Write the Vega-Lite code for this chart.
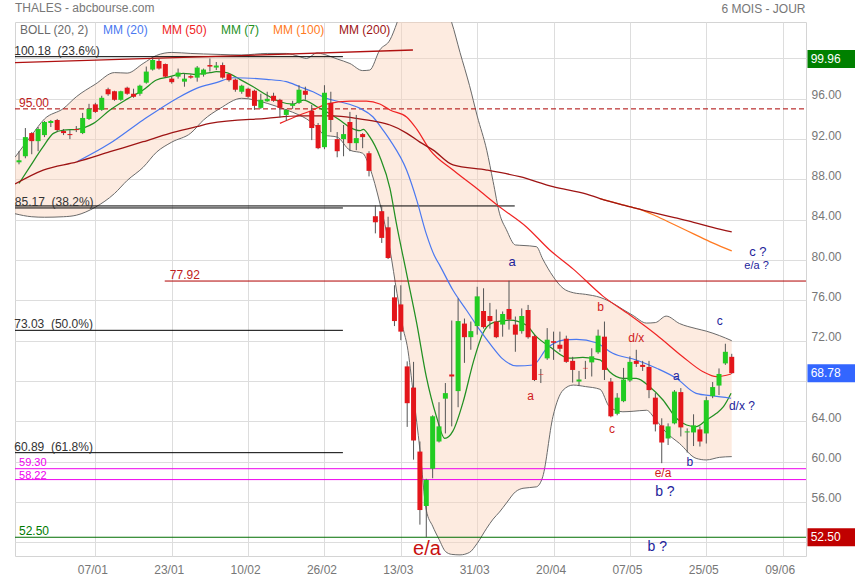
{
  "$schema": "https://vega.github.io/schema/vega-lite/v6.json",
  "width": 791,
  "height": 534,
  "autosize": {"type": "none"},
  "padding": {"left": 15, "top": 22, "right": 49, "bottom": 24},
  "background": "white",
  "title": {"text": "THALES - abcbourse.com", "anchor": "start", "frame": "group", "fontSize": 12, "fontWeight": "normal", "color": "#777777", "offset": -21, "baseline": "alphabetic"},
  "config": {"font": "Liberation Sans", "view": {"stroke": "#d4d4d4"}},
  "datasets": {
    "candles": [
      {"i":0,"o":89.7,"h":90.8,"l":89.5,"c":89.9},{"i":1,"o":90.3,"h":93.1,"l":90.1,"c":92.2},{"i":2,"o":92.6,"h":92.7,"l":90.5,"c":91.8},{"i":3,"o":91.8,"h":93.2,"l":90.8,"c":93.0},{"i":4,"o":92.4,"h":93.8,"l":92.2,"c":93.7},
      {"i":5,"o":93.6,"h":93.9,"l":93.2,"c":93.8},{"i":6,"o":93.9,"h":94.0,"l":92.7,"c":92.9},{"i":7,"o":92.8,"h":93.0,"l":92.4,"c":92.6},{"i":8,"o":92.5,"h":92.9,"l":92.0,"c":92.4},{"i":9,"o":93.0,"h":93.3,"l":92.7,"c":92.9},
      {"i":10,"o":92.6,"h":94.6,"l":92.5,"c":94.1},{"i":11,"o":94.0,"h":95.5,"l":93.9,"c":95.0},{"i":12,"o":95.45,"h":95.6,"l":94.6,"c":94.7},{"i":13,"o":94.9,"h":96.3,"l":94.8,"c":96.1},{"i":14,"o":96.95,"h":97.1,"l":96.3,"c":96.45},
      {"i":15,"o":96.75,"h":96.8,"l":95.8,"c":95.9},{"i":16,"o":95.9,"h":96.8,"l":95.8,"c":96.75},{"i":17,"o":97.1,"h":97.2,"l":96.4,"c":96.5},{"i":18,"o":96.5,"h":97.0,"l":96.1,"c":96.2},{"i":19,"o":96.5,"h":97.4,"l":96.3,"c":97.3},
      {"i":20,"o":97.6,"h":99.2,"l":97.5,"c":98.7},{"i":21,"o":98.9,"h":100.0,"l":98.8,"c":99.85},{"i":22,"o":99.75,"h":99.95,"l":98.9,"c":99.0},{"i":23,"o":99.45,"h":99.5,"l":98.1,"c":98.2},{"i":24,"o":98.0,"h":98.2,"l":97.5,"c":97.65},
      {"i":25,"o":98.2,"h":99.0,"l":98.0,"c":98.6},{"i":26,"o":97.7,"h":98.5,"l":97.2,"c":98.0},{"i":27,"o":98.25,"h":98.4,"l":98.0,"c":98.1},{"i":28,"o":98.1,"h":99.25,"l":97.7,"c":99.1},{"i":29,"o":98.4,"h":99.0,"l":98.2,"c":98.9},
      {"i":30,"o":99.35,"h":100.0,"l":98.7,"c":99.2},{"i":31,"o":99.1,"h":99.65,"l":98.85,"c":99.3},{"i":32,"o":99.35,"h":99.6,"l":98.0,"c":98.1},{"i":33,"o":98.45,"h":98.5,"l":97.7,"c":97.85},{"i":34,"o":97.9,"h":98.0,"l":96.7,"c":96.9},
      {"i":35,"o":96.7,"h":97.4,"l":96.5,"c":97.3},{"i":36,"o":97.0,"h":97.1,"l":96.1,"c":96.2},{"i":37,"o":96.8,"h":96.9,"l":94.9,"c":95.3},{"i":38,"o":95.1,"h":96.5,"l":95.0,"c":95.9},{"i":39,"o":95.75,"h":96.7,"l":95.7,"c":96.0},
      {"i":40,"o":96.3,"h":96.6,"l":95.7,"c":95.8},{"i":41,"o":95.9,"h":96.0,"l":94.15,"c":95.1},{"i":42,"o":94.4,"h":95.0,"l":93.8,"c":94.9},{"i":43,"o":95.3,"h":95.8,"l":95.0,"c":95.5},{"i":44,"o":95.6,"h":97.35,"l":95.5,"c":96.9},
      {"i":45,"o":96.8,"h":97.2,"l":95.9,"c":96.4},{"i":46,"o":94.8,"h":95.4,"l":91.9,"c":93.1},{"i":47,"o":93.4,"h":93.6,"l":91.0,"c":91.1},{"i":48,"o":91.2,"h":97.35,"l":91.0,"c":96.6},{"i":49,"o":95.6,"h":96.7,"l":92.7,"c":93.9},
      {"i":50,"o":92.0,"h":92.7,"l":90.2,"c":90.8},{"i":51,"o":92.0,"h":93.4,"l":90.3,"c":92.5},{"i":52,"o":93.7,"h":94.7,"l":90.8,"c":91.6},{"i":53,"o":91.6,"h":94.4,"l":90.9,"c":92.1},{"i":54,"o":92.5,"h":92.6,"l":91.1,"c":92.2},
      {"i":55,"o":90.6,"h":90.8,"l":88.3,"c":88.85},{"i":56,"o":84.35,"h":85.45,"l":82.65,"c":83.75},{"i":57,"o":84.85,"h":85.45,"l":81.7,"c":82.2},{"i":58,"o":83.25,"h":84.3,"l":80.1,"c":80.2},{"i":59,"o":76.3,"h":77.5,"l":73.45,"c":73.95},
      {"i":60,"o":75.6,"h":77.5,"l":72.05,"c":72.9},{"i":61,"o":69.45,"h":69.95,"l":63.45,"c":65.8},{"i":62,"o":67.35,"h":69.9,"l":60.2,"c":62.1},{"i":63,"o":61.0,"h":62.0,"l":53.75,"c":55.2},{"i":64,"o":55.6,"h":58.3,"l":52.5,"c":58.2},
      {"i":65,"o":59.3,"h":64.6,"l":58.35,"c":64.5},{"i":66,"o":62.0,"h":65.9,"l":61.9,"c":63.5},{"i":67,"o":66.25,"h":67.8,"l":62.8,"c":66.8},{"i":68,"o":68.65,"h":74.0,"l":63.5,"c":68.45},{"i":69,"o":67.0,"h":76.2,"l":65.4,"c":73.95},
      {"i":70,"o":73.7,"h":74.2,"l":69.8,"c":72.35},{"i":71,"o":72.35,"h":73.9,"l":71.1,"c":72.95},{"i":72,"o":73.45,"h":77.35,"l":72.6,"c":76.4},{"i":73,"o":74.95,"h":77.2,"l":73.2,"c":73.35},{"i":74,"o":74.45,"h":75.75,"l":73.2,"c":73.95},
      {"i":75,"o":73.9,"h":75.1,"l":72.25,"c":72.35},{"i":76,"o":73.6,"h":74.9,"l":72.4,"c":74.65},{"i":77,"o":75.15,"h":77.95,"l":73.1,"c":74.1},{"i":78,"o":73.6,"h":74.4,"l":70.9,"c":72.6},{"i":79,"o":72.95,"h":75.2,"l":72.7,"c":74.45},
      {"i":80,"o":75.05,"h":75.55,"l":72.2,"c":72.35},{"i":81,"o":72.45,"h":72.6,"l":68.0,"c":68.1},{"i":82,"o":68.65,"h":69.2,"l":67.8,"c":68.6},{"i":83,"o":70.25,"h":73.25,"l":70.1,"c":72.1},{"i":84,"o":71.95,"h":72.9,"l":70.1,"c":71.8},
      {"i":85,"o":71.6,"h":72.9,"l":70.9,"c":71.2},{"i":86,"o":72.2,"h":72.5,"l":69.8,"c":69.9},{"i":87,"o":70.0,"h":70.4,"l":67.85,"c":69.1},{"i":88,"o":67.95,"h":69.0,"l":67.5,"c":68.15},{"i":89,"o":69.3,"h":70.0,"l":68.2,"c":69.25},
      {"i":90,"o":69.85,"h":71.25,"l":68.45,"c":70.45},{"i":91,"o":70.85,"h":73.1,"l":70.7,"c":72.5},{"i":92,"o":72.4,"h":73.9,"l":68.1,"c":69.1},{"i":93,"o":67.95,"h":68.3,"l":64.4,"c":64.5},{"i":94,"o":64.75,"h":66.8,"l":64.6,"c":66.35},
      {"i":95,"o":66.0,"h":69.3,"l":65.9,"c":68.15},{"i":96,"o":68.05,"h":70.45,"l":67.9,"c":69.9},{"i":97,"o":70.0,"h":71.1,"l":69.4,"c":69.7},{"i":98,"o":69.6,"h":70.0,"l":69.0,"c":69.4},{"i":99,"o":69.4,"h":70.0,"l":66.3,"c":67.1},
      {"i":100,"o":66.35,"h":66.8,"l":63.0,"c":63.7},{"i":101,"o":63.6,"h":64.3,"l":59.85,"c":61.9},{"i":102,"o":62.3,"h":63.8,"l":61.65,"c":63.5},{"i":103,"o":63.8,"h":67.1,"l":63.7,"c":66.95},{"i":104,"o":66.9,"h":67.3,"l":62.5,"c":63.4},
      {"i":105,"o":62.9,"h":63.3,"l":60.9,"c":63.0},{"i":106,"o":62.9,"h":64.7,"l":61.55,"c":63.6},{"i":107,"o":63.2,"h":63.5,"l":61.5,"c":62.0},{"i":108,"o":62.8,"h":66.45,"l":61.8,"c":66.1},{"i":109,"o":66.5,"h":67.9,"l":66.3,"c":67.4},
      {"i":110,"o":67.55,"h":69.25,"l":66.6,"c":68.7},{"i":111,"o":69.75,"h":71.7,"l":69.6,"c":70.9},{"i":112,"o":70.4,"h":70.7,"l":68.7,"c":68.78}
    ],
    "band": [
      {"i":-0.63,"up":90.2,"lo":84.6},{"i":2,"up":92.4,"lo":84.3},{"i":4,"up":94.0,"lo":84.25},{"i":7,"up":95.05,"lo":84.3},{"i":9,"up":96.2,"lo":84.45},
      {"i":12,"up":97.45,"lo":85.25},{"i":15,"up":98.6,"lo":86.6},{"i":17,"up":98.55,"lo":87.9},{"i":19.5,"up":99.5,"lo":89.2},{"i":21.6,"up":100.3,"lo":90.7},
      {"i":24,"up":100.6,"lo":91.7},{"i":27,"up":100.5,"lo":92.6},{"i":29,"up":100.45,"lo":93.9},{"i":31.6,"up":100.4,"lo":95.05},{"i":35,"up":100.35,"lo":96.05},
      {"i":39,"up":100.5,"lo":95.55},{"i":42,"up":100.5,"lo":94.9},{"i":44,"up":100.2,"lo":94.4},{"i":45.2,"up":100.0,"lo":94.0},{"i":46.8,"up":100.55,"lo":93.2},
      {"i":48,"up":100.4,"lo":92.4},{"i":50,"up":99.95,"lo":92.2},{"i":52,"up":99.5,"lo":90.9},{"i":54,"up":98.8,"lo":90.6},{"i":55.1,"up":98.85,"lo":89.2},
      {"i":56.7,"up":100.85,"lo":85.65},{"i":58.3,"up":101.85,"lo":81.0},{"i":59.4,"up":103.55,"lo":76.7},{"i":60.4,"up":105.5,"lo":73.1},{"i":61,"up":106.2,"lo":71.5},
      {"i":62,"up":107.5,"lo":66.5},{"i":63,"up":108.8,"lo":61.2},{"i":64,"up":110.0,"lo":55.2},{"i":65,"up":108.2,"lo":53.6},{"i":66,"up":106.9,"lo":52.3},
      {"i":67,"up":105.2,"lo":51.1},{"i":68,"up":103.55,"lo":50.8},{"i":69.3,"up":100.6,"lo":50.75},{"i":70.8,"up":97.3,"lo":51.0},{"i":72,"up":94.3,"lo":51.9},
      {"i":73.5,"up":90.9,"lo":53.4},{"i":74.5,"up":87.8,"lo":54.3},{"i":75.5,"up":84.65,"lo":55.0},{"i":76.6,"up":83.0,"lo":55.9},{"i":78,"up":81.5,"lo":57.0},
      {"i":79.2,"up":81.45,"lo":57.36},{"i":81.3,"up":81.33,"lo":57.5},{"i":82.3,"up":80.1,"lo":58.5},{"i":83.9,"up":78.4,"lo":64.46},{"i":85.5,"up":77.2,"lo":67.1},
      {"i":87.1,"up":76.76,"lo":67.6},{"i":89,"up":76.6,"lo":67.45},{"i":91.3,"up":76.3,"lo":67.18},{"i":92.8,"up":75.9,"lo":65.44},{"i":94.9,"up":75.1,"lo":64.95},
      {"i":96.5,"up":74.5,"lo":65.0},{"i":98.6,"up":73.75,"lo":65.1},{"i":100,"up":73.8,"lo":64.2},{"i":101.7,"up":74.44,"lo":62.9},{"i":103.8,"up":73.7,"lo":61.8},
      {"i":106.4,"up":73.2,"lo":60.33},{"i":108,"up":72.95,"lo":60.17},{"i":110.1,"up":72.5,"lo":60.43},{"i":112,"up":72.0,"lo":60.5}
    ],
    "ma": [
      {"s":"MM (7)","i":0,"v":87.6},{"s":"MM (7)","i":1.7,"v":89.25},{"s":"MM (7)","i":3.8,"v":91.25},{"s":"MM (7)","i":5.4,"v":92.57},{"s":"MM (7)","i":7,"v":92.9},
      {"s":"MM (7)","i":9.1,"v":92.97},{"s":"MM (7)","i":11.7,"v":93.56},{"s":"MM (7)","i":14.3,"v":94.89},{"s":"MM (7)","i":16.9,"v":95.94},{"s":"MM (7)","i":19.5,"v":96.87},
      {"s":"MM (7)","i":21.6,"v":97.86},{"s":"MM (7)","i":23.7,"v":98.19},{"s":"MM (7)","i":25.8,"v":98.53},{"s":"MM (7)","i":27.9,"v":98.43},{"s":"MM (7)","i":30,"v":98.59},
      {"s":"MM (7)","i":31,"v":98.69},{"s":"MM (7)","i":32.6,"v":98.59},{"s":"MM (7)","i":34.7,"v":97.93},{"s":"MM (7)","i":36.8,"v":97.19},{"s":"MM (7)","i":38.9,"v":96.38},
      {"s":"MM (7)","i":41,"v":95.71},{"s":"MM (7)","i":43.1,"v":95.48},{"s":"MM (7)","i":44.7,"v":95.87},{"s":"MM (7)","i":46.8,"v":95.21},{"s":"MM (7)","i":48.3,"v":94.72},
      {"s":"MM (7)","i":50.4,"v":93.89},{"s":"MM (7)","i":52,"v":93.17},{"s":"MM (7)","i":53.6,"v":92.84},{"s":"MM (7)","i":54.1,"v":92.97},{"s":"MM (7)","i":55.1,"v":92.24},
      {"s":"MM (7)","i":56.7,"v":90.26},{"s":"MM (7)","i":58.3,"v":87.1},{"s":"MM (7)","i":59.3,"v":83.64},{"s":"MM (7)","i":60.9,"v":78.68},{"s":"MM (7)","i":62.5,"v":73.72},
      {"s":"MM (7)","i":64,"v":68.43},{"s":"MM (7)","i":65.6,"v":64.47},{"s":"MM (7)","i":66.9,"v":62.31},{"s":"MM (7)","i":68.2,"v":63.05},{"s":"MM (7)","i":69.8,"v":65.95},
      {"s":"MM (7)","i":71.4,"v":69.9},{"s":"MM (7)","i":72.9,"v":72.74},{"s":"MM (7)","i":74.5,"v":73.79},{"s":"MM (7)","i":77.1,"v":74.05},{"s":"MM (7)","i":79.7,"v":73.56},
      {"s":"MM (7)","i":81.3,"v":72.4},{"s":"MM (7)","i":83.4,"v":71.41},{"s":"MM (7)","i":86.5,"v":70.26},{"s":"MM (7)","i":88.6,"v":70.35},{"s":"MM (7)","i":91.3,"v":70.09},
      {"s":"MM (7)","i":92.8,"v":68.92},{"s":"MM (7)","i":94.9,"v":68.27},{"s":"MM (7)","i":97,"v":68.27},{"s":"MM (7)","i":99.1,"v":67.44},{"s":"MM (7)","i":101.2,"v":66.12},
      {"s":"MM (7)","i":103.3,"v":64.31},{"s":"MM (7)","i":104.9,"v":63.64},{"s":"MM (7)","i":106.4,"v":63.47},{"s":"MM (7)","i":108,"v":64.13},{"s":"MM (7)","i":109.6,"v":64.8},
      {"s":"MM (7)","i":110.7,"v":65.45},{"s":"MM (7)","i":111.9,"v":66.78},
      {"s":"MM (20)","i":9.1,"v":89.75},{"s":"MM (20)","i":14.3,"v":91.58},{"s":"MM (20)","i":19.5,"v":93.9},{"s":"MM (20)","i":24.8,"v":96.04},{"s":"MM (20)","i":27.9,"v":97.04},
      {"s":"MM (20)","i":31,"v":97.6},{"s":"MM (20)","i":33.7,"v":98.09},{"s":"MM (20)","i":38.9,"v":97.93},{"s":"MM (20)","i":42,"v":97.7},{"s":"MM (20)","i":44.1,"v":97.2},
      {"s":"MM (20)","i":46.2,"v":96.7},{"s":"MM (20)","i":48.3,"v":96.04},{"s":"MM (20)","i":50.4,"v":95.71},{"s":"MM (20)","i":53.6,"v":95.05},{"s":"MM (20)","i":55.6,"v":94.22},
      {"s":"MM (20)","i":57.2,"v":92.9},{"s":"MM (20)","i":58.3,"v":91.9},{"s":"MM (20)","i":60.9,"v":88.93},{"s":"MM (20)","i":62.5,"v":85.95},{"s":"MM (20)","i":64,"v":82.6},
      {"s":"MM (20)","i":65.3,"v":80.4},{"s":"MM (20)","i":66.1,"v":79.5},{"s":"MM (20)","i":68.2,"v":77.0},{"s":"MM (20)","i":70.3,"v":75.05},{"s":"MM (20)","i":72.4,"v":73.07},
      {"s":"MM (20)","i":74.5,"v":71.3},{"s":"MM (20)","i":76,"v":70.2},{"s":"MM (20)","i":78.2,"v":69.5},{"s":"MM (20)","i":80.8,"v":69.59},{"s":"MM (20)","i":82.9,"v":71.2},
      {"s":"MM (20)","i":85.5,"v":72.05},{"s":"MM (20)","i":87.6,"v":72.14},{"s":"MM (20)","i":90.7,"v":71.8},{"s":"MM (20)","i":93.3,"v":70.75},{"s":"MM (20)","i":97,"v":70.09},
      {"s":"MM (20)","i":100.2,"v":69.27},{"s":"MM (20)","i":103.3,"v":68.27},{"s":"MM (20)","i":106.4,"v":66.78},{"s":"MM (20)","i":109.1,"v":66.52},{"s":"MM (20)","i":111.9,"v":66.29},
      {"s":"MM (50)","i":41,"v":93.56},{"s":"MM (50)","i":44.1,"v":94.39},{"s":"MM (50)","i":46.2,"v":94.89},{"s":"MM (50)","i":48.3,"v":95.48},{"s":"MM (50)","i":52,"v":95.77},
      {"s":"MM (50)","i":54.6,"v":95.77},{"s":"MM (50)","i":56.7,"v":95.48},{"s":"MM (50)","i":58.3,"v":94.89},{"s":"MM (50)","i":60.9,"v":94.2},{"s":"MM (50)","i":62.5,"v":93.0},
      {"s":"MM (50)","i":64.6,"v":90.91},{"s":"MM (50)","i":68.2,"v":88.93},{"s":"MM (50)","i":71.9,"v":87.12},{"s":"MM (50)","i":75.5,"v":85.29},{"s":"MM (50)","i":79.7,"v":83.31},
      {"s":"MM (50)","i":83.4,"v":81.0},{"s":"MM (50)","i":87.1,"v":79.1},{"s":"MM (50)","i":91.8,"v":76.4},{"s":"MM (50)","i":96,"v":74.55},{"s":"MM (50)","i":100.2,"v":72.57},
      {"s":"MM (50)","i":104.3,"v":70.41},{"s":"MM (50)","i":107.5,"v":68.92},{"s":"MM (50)","i":109.6,"v":68.43},{"s":"MM (50)","i":111.9,"v":68.7},
      {"s":"MM (100)","i":91.3,"v":86.1},{"s":"MM (100)","i":95,"v":85.45},{"s":"MM (100)","i":97.5,"v":85.05},{"s":"MM (100)","i":100,"v":84.4},{"s":"MM (100)","i":103,"v":83.5},
      {"s":"MM (100)","i":106,"v":82.6},{"s":"MM (100)","i":109,"v":81.7},{"s":"MM (100)","i":112,"v":80.9},
      {"s":"MM (200)","i":-0.63,"v":87.55},{"s":"MM (200)","i":3.8,"v":88.93},{"s":"MM (200)","i":9.1,"v":89.75},{"s":"MM (200)","i":14.3,"v":90.75},{"s":"MM (200)","i":19.5,"v":91.74},
      {"s":"MM (200)","i":23.7,"v":92.57},{"s":"MM (200)","i":27.9,"v":93.23},{"s":"MM (200)","i":30,"v":93.56},{"s":"MM (200)","i":38.9,"v":94.06},{"s":"MM (200)","i":44.1,"v":94.3},
      {"s":"MM (200)","i":49.4,"v":94.3},{"s":"MM (200)","i":53,"v":94.06},{"s":"MM (200)","i":56.2,"v":93.73},{"s":"MM (200)","i":58.3,"v":93.4},{"s":"MM (200)","i":60.9,"v":92.6},
      {"s":"MM (200)","i":63,"v":91.7},{"s":"MM (200)","i":65.1,"v":90.91},{"s":"MM (200)","i":68.2,"v":89.44},{"s":"MM (200)","i":73.5,"v":88.93},{"s":"MM (200)","i":78.7,"v":88.27},
      {"s":"MM (200)","i":83.9,"v":87.28},{"s":"MM (200)","i":89.2,"v":86.55},{"s":"MM (200)","i":91.3,"v":86.1},{"s":"MM (200)","i":95,"v":85.45},{"s":"MM (200)","i":97.5,"v":85.05},
      {"s":"MM (200)","i":100,"v":84.65},{"s":"MM (200)","i":103,"v":84.2},{"s":"MM (200)","i":106,"v":83.75},{"s":"MM (200)","i":109,"v":83.25},{"s":"MM (200)","i":112,"v":82.8}
    ],
    "levels": [
      {"g":"fib","p":100.18,"i":-0.63,"i2":50.9},{"g":"fib","p":85.17,"i":-0.63,"i2":50.9},{"g":"fib","p":85.37,"i":-0.63,"i2":77.9},
      {"g":"fib","p":73.03,"i":-0.63,"i2":50.9},{"g":"fib","p":60.89,"i":-0.63,"i2":50.9},
      {"g":"res","p":77.92,"i":22.9,"i2":123.67},
      {"g":"mag","p":59.30,"i":-0.63,"i2":123.67},{"g":"mag","p":58.22,"i":-0.63,"i2":123.67},
      {"g":"sup","p":52.50,"i":-0.63,"i2":123.67},
      {"g":"dash","p":95.00,"i":-0.63,"i2":123.67}
    ],
    "trend": [{"i":-0.63,"p":99.58,"i2":61.9,"p2":100.84}],
    "levelText": [
      {"g":"fib","t":"100.18\u00a0 (23.6%)","i":-0.75,"p":100.18},{"g":"fib","t":"85.17\u00a0 (38.2%)","i":-0.65,"p":85.17},
      {"g":"fib","t":"73.03\u00a0 (50.0%)","i":-0.75,"p":73.03},{"g":"fib","t":"60.89\u00a0 (61.8%)","i":-0.75,"p":60.89},
      {"g":"res","t":"95.00","i":0,"p":95.00},{"g":"res","t":"77.92","i":23.7,"p":77.92},
      {"g":"magHi","t":"59.30","i":0,"p":59.30},{"g":"magLo","t":"58.22","i":0,"p":58.22},
      {"g":"sup","t":"52.50","i":0,"p":52.50}
    ],
    "waves": [
      {"g":"n13","t":"a","i":77.5,"p":79.84},{"g":"n13","t":"c ?","i":116.1,"p":80.8},
      {"g":"n14","t":"b ?","i":101.5,"p":56.96},{"g":"n14","t":"b ?","i":100.3,"p":51.57},
      {"g":"n12","t":"a","i":103.3,"p":68.5},{"g":"n12","t":"c","i":110.1,"p":73.96},{"g":"n12","t":"d/x ?","i":113.6,"p":65.56},{"g":"n12","t":"b","i":105.4,"p":60.0},
      {"g":"n11","t":"e/a ?","i":115.9,"p":79.45},
      {"g":"r12","t":"b","i":91.4,"p":75.38},{"g":"r12","t":"a","i":80.4,"p":66.55},{"g":"r12","t":"c","i":93.2,"p":63.24},{"g":"r12","t":"d/x","i":97.0,"p":72.24},{"g":"r12","t":"e/a","i":101.2,"p":58.85},
      {"g":"r20","t":"e/a","i":64.1,"p":51.29}
    ],
    "boxes": [{"k":"haut","v":99.96},{"k":"dernier","v":68.78},{"k":"bas","v":52.50}]
  },
  "layer": [
    {
      "data": {"name": "band"},
      "mark": {"type": "area", "interpolate": "monotone", "fill": "#fbd3bb", "fillOpacity": 0.45, "clip": true},
      "encoding": {
        "x": {"field": "i", "type": "quantitative", "scale": {"domain": [-0.63, 123.67], "nice": false, "zero": false, "padding": 0},
          "axis": {"values": [12,24,36,48,60,72,84,96,108,120], "labelExpr": "datum.value == 12 ? '07/01' : datum.value == 24 ? '23/01' : datum.value == 36 ? '10/02' : datum.value == 48 ? '26/02' : datum.value == 60 ? '13/03' : datum.value == 72 ? '31/03' : datum.value == 84 ? '20/04' : datum.value == 96 ? '07/05' : datum.value == 108 ? '25/05' : '09/06'", "title": null, "grid": true, "gridColor": "#dddddd", "ticks": false, "tickSize": 0, "domain": false, "labelColor": "#777777", "labelFontSize": 12, "labelPadding": 8, "labelOffset": -3, "labelFlush": false, "labelOverlap": false}},
        "y": {"field": "up", "type": "quantitative", "scale": {"domain": [50.64, 103.62], "nice": false, "zero": false, "padding": 0},
          "axis": {"orient": "right", "values": [52,56,60,64,68,72,76,80,84,88,92,96,100], "labelExpr": "datum.value == 52 || datum.value == 68 || datum.value == 100 ? '' : format(datum.value, '.2f')", "title": "6 MOIS - JOUR", "titleAngle": 0, "titleAlign": "right", "titleBaseline": "alphabetic", "titleX": -1, "titleY": -9.5, "titleColor": "#777777", "titleFontSize": 12, "titleFontWeight": "normal", "grid": true, "gridColor": "#dddddd", "ticks": false, "tickSize": 0, "domain": false, "labelColor": "#777777", "labelFontSize": 12, "labelPadding": 5, "labelBaseline": "alphabetic", "labelFlush": false, "labelOverlap": false}},
        "y2": {"field": "lo"}
      }
    },
    {
      "data": {"name": "band"},
      "mark": {"type": "line", "interpolate": "monotone", "strokeWidth": 1, "clip": true},
      "encoding": {
        "x": {"field": "i", "type": "quantitative", "scale": {"padding": 0}},
        "y": {"field": "up", "type": "quantitative", "scale": {"domain": [50.64, 103.62], "nice": false, "zero": false, "padding": 0}},
        "color": {"datum": "BOLL (20, 2)"}
      }
    },
    {
      "data": {"name": "band"},
      "mark": {"type": "line", "interpolate": "monotone", "strokeWidth": 1, "clip": true},
      "encoding": {
        "x": {"field": "i", "type": "quantitative", "scale": {"padding": 0}},
        "y": {"field": "lo", "type": "quantitative", "scale": {"domain": [50.64, 103.62], "nice": false, "zero": false, "padding": 0}},
        "color": {"datum": "BOLL (20, 2)"}
      }
    },
    {
      "data": {"name": "levels"},
      "transform": [{"filter": "datum.g == 'fib'"}],
      "mark": {"type": "rule", "color": "#000000", "strokeWidth": 1},
      "encoding": {
        "x": {"field": "i", "type": "quantitative", "scale": {"padding": 0}}, "x2": {"field": "i2"},
        "y": {"field": "p", "type": "quantitative", "scale": {"domain": [50.64, 103.62], "nice": false, "zero": false, "padding": 0}}
      }
    },
    {
      "data": {"name": "levels"},
      "transform": [{"filter": "datum.g == 'res'"}],
      "mark": {"type": "rule", "color": "#b00000", "strokeWidth": 1},
      "encoding": {
        "x": {"field": "i", "type": "quantitative", "scale": {"padding": 0}}, "x2": {"field": "i2"},
        "y": {"field": "p", "type": "quantitative", "scale": {"domain": [50.64, 103.62], "nice": false, "zero": false, "padding": 0}}
      }
    },
    {
      "data": {"name": "levels"},
      "transform": [{"filter": "datum.g == 'mag'"}],
      "mark": {"type": "rule", "color": "#ee00ee", "strokeWidth": 1},
      "encoding": {
        "x": {"field": "i", "type": "quantitative", "scale": {"padding": 0}}, "x2": {"field": "i2"},
        "y": {"field": "p", "type": "quantitative", "scale": {"domain": [50.64, 103.62], "nice": false, "zero": false, "padding": 0}}
      }
    },
    {
      "data": {"name": "levels"},
      "transform": [{"filter": "datum.g == 'sup'"}],
      "mark": {"type": "rule", "color": "#006e00", "strokeWidth": 1},
      "encoding": {
        "x": {"field": "i", "type": "quantitative", "scale": {"padding": 0}}, "x2": {"field": "i2"},
        "y": {"field": "p", "type": "quantitative", "scale": {"domain": [50.64, 103.62], "nice": false, "zero": false, "padding": 0}}
      }
    },
    {
      "data": {"name": "levels"},
      "transform": [{"filter": "datum.g == 'dash'"}],
      "mark": {"type": "rule", "color": "#aa0000", "strokeWidth": 1, "strokeDash": [5, 3]},
      "encoding": {
        "x": {"field": "i", "type": "quantitative", "scale": {"padding": 0}}, "x2": {"field": "i2"},
        "y": {"field": "p", "type": "quantitative", "scale": {"domain": [50.64, 103.62], "nice": false, "zero": false, "padding": 0}}
      }
    },
    {
      "data": {"name": "trend"},
      "mark": {"type": "rule", "color": "#b01010", "strokeWidth": 1.3},
      "encoding": {
        "x": {"field": "i", "type": "quantitative", "scale": {"padding": 0}}, "x2": {"field": "i2"},
        "y": {"field": "p", "type": "quantitative", "scale": {"domain": [50.64, 103.62], "nice": false, "zero": false, "padding": 0}}, "y2": {"field": "p2"}
      }
    },
    {
      "data": {"name": "ma"},
      "mark": {"type": "line", "interpolate": "monotone", "clip": true},
      "encoding": {
        "x": {"field": "i", "type": "quantitative", "scale": {"padding": 0}},
        "y": {"field": "v", "type": "quantitative", "scale": {"domain": [50.64, 103.62], "nice": false, "zero": false, "padding": 0}},
        "color": {"field": "s", "type": "nominal",
          "scale": {"domain": ["BOLL (20, 2)", "MM (20)", "MM (50)", "MM (7)", "MM (100)", "MM (200)"], "range": ["#6a6a6a", "#4a78f0", "#f02424", "#229022", "#ff7a22", "#9e1414"]},
          "legend": {"orient": "none", "legendX": -7, "legendY": 2, "direction": "horizontal", "columns": 6, "columnPadding": 2, "title": null, "symbolType": "circle", "symbolSize": 0, "symbolStrokeWidth": 0, "symbolOpacity": 0, "labelOffset": 0, "labelFontSize": 12, "labelLimit": 0, "padding": 0,
            "encode": {"labels": {"update": {"fill": {"scale": "color", "field": "value"}}}}}},
        "strokeWidth": {"field": "s", "type": "nominal", "scale": {"domain": ["MM (20)", "MM (50)", "MM (7)", "MM (100)", "MM (200)"], "range": [1.2, 1.3, 1.2, 1.4, 1.8]}, "legend": null}
      }
    },
    {
      "data": {"name": "candles"},
      "mark": {"type": "rule", "color": "#555555", "strokeWidth": 1},
      "encoding": {
        "x": {"field": "i", "type": "quantitative", "scale": {"padding": 0}},
        "y": {"field": "l", "type": "quantitative", "scale": {"domain": [50.64, 103.62], "nice": false, "zero": false, "padding": 0}},
        "y2": {"field": "h"}
      }
    },
    {
      "data": {"name": "candles"},
      "mark": {"type": "bar", "size": 5},
      "encoding": {
        "x": {"field": "i", "type": "quantitative", "scale": {"padding": 0}},
        "y": {"field": "o", "type": "quantitative", "scale": {"domain": [50.64, 103.62], "nice": false, "zero": false, "padding": 0}},
        "y2": {"field": "c"},
        "color": {"condition": {"test": "datum.c >= datum.o", "value": "#22cc22"}, "value": "#e3161b"}
      }
    },
    {
      "data": {"name": "levelText"},
      "transform": [{"filter": "datum.g == 'fib'"}],
      "mark": {"type": "text", "align": "left", "baseline": "alphabetic", "dy": -2, "fontSize": 12, "color": "#333333"},
      "encoding": {
        "x": {"field": "i", "type": "quantitative", "scale": {"padding": 0}},
        "y": {"field": "p", "type": "quantitative", "scale": {"domain": [50.64, 103.62], "nice": false, "zero": false, "padding": 0}},
        "text": {"field": "t"}
      }
    },
    {
      "data": {"name": "levelText"},
      "transform": [{"filter": "datum.g == 'res'"}],
      "mark": {"type": "text", "align": "left", "baseline": "alphabetic", "dy": -2, "fontSize": 12, "color": "#c02020"},
      "encoding": {
        "x": {"field": "i", "type": "quantitative", "scale": {"padding": 0}},
        "y": {"field": "p", "type": "quantitative", "scale": {"domain": [50.64, 103.62], "nice": false, "zero": false, "padding": 0}},
        "text": {"field": "t"}
      }
    },
    {
      "data": {"name": "levelText"},
      "transform": [{"filter": "datum.g == 'magHi'"}],
      "mark": {"type": "text", "align": "left", "baseline": "alphabetic", "dy": -2.5, "fontSize": 11, "color": "#ee00ee"},
      "encoding": {
        "x": {"field": "i", "type": "quantitative", "scale": {"padding": 0}},
        "y": {"field": "p", "type": "quantitative", "scale": {"domain": [50.64, 103.62], "nice": false, "zero": false, "padding": 0}},
        "text": {"field": "t"}
      }
    },
    {
      "data": {"name": "levelText"},
      "transform": [{"filter": "datum.g == 'magLo'"}],
      "mark": {"type": "text", "align": "left", "baseline": "alphabetic", "dy": -0.5, "fontSize": 11, "color": "#ee00ee"},
      "encoding": {
        "x": {"field": "i", "type": "quantitative", "scale": {"padding": 0}},
        "y": {"field": "p", "type": "quantitative", "scale": {"domain": [50.64, 103.62], "nice": false, "zero": false, "padding": 0}},
        "text": {"field": "t"}
      }
    },
    {
      "data": {"name": "levelText"},
      "transform": [{"filter": "datum.g == 'sup'"}],
      "mark": {"type": "text", "align": "left", "baseline": "alphabetic", "dy": -2, "fontSize": 12, "color": "#007a00"},
      "encoding": {
        "x": {"field": "i", "type": "quantitative", "scale": {"padding": 0}},
        "y": {"field": "p", "type": "quantitative", "scale": {"domain": [50.64, 103.62], "nice": false, "zero": false, "padding": 0}},
        "text": {"field": "t"}
      }
    },
    {
      "data": {"name": "waves"},
      "transform": [{"filter": "datum.g == 'n13'"}],
      "mark": {"type": "text", "align": "center", "baseline": "middle", "fontSize": 13, "color": "#23239a"},
      "encoding": {
        "x": {"field": "i", "type": "quantitative", "scale": {"padding": 0}},
        "y": {"field": "p", "type": "quantitative", "scale": {"domain": [50.64, 103.62], "nice": false, "zero": false, "padding": 0}},
        "text": {"field": "t"}
      }
    },
    {
      "data": {"name": "waves"},
      "transform": [{"filter": "datum.g == 'n14'"}],
      "mark": {"type": "text", "align": "center", "baseline": "middle", "fontSize": 14, "color": "#23239a"},
      "encoding": {
        "x": {"field": "i", "type": "quantitative", "scale": {"padding": 0}},
        "y": {"field": "p", "type": "quantitative", "scale": {"domain": [50.64, 103.62], "nice": false, "zero": false, "padding": 0}},
        "text": {"field": "t"}
      }
    },
    {
      "data": {"name": "waves"},
      "transform": [{"filter": "datum.g == 'n12'"}],
      "mark": {"type": "text", "align": "center", "baseline": "middle", "fontSize": 12, "color": "#23239a"},
      "encoding": {
        "x": {"field": "i", "type": "quantitative", "scale": {"padding": 0}},
        "y": {"field": "p", "type": "quantitative", "scale": {"domain": [50.64, 103.62], "nice": false, "zero": false, "padding": 0}},
        "text": {"field": "t"}
      }
    },
    {
      "data": {"name": "waves"},
      "transform": [{"filter": "datum.g == 'n11'"}],
      "mark": {"type": "text", "align": "center", "baseline": "middle", "fontSize": 11, "color": "#23239a"},
      "encoding": {
        "x": {"field": "i", "type": "quantitative", "scale": {"padding": 0}},
        "y": {"field": "p", "type": "quantitative", "scale": {"domain": [50.64, 103.62], "nice": false, "zero": false, "padding": 0}},
        "text": {"field": "t"}
      }
    },
    {
      "data": {"name": "waves"},
      "transform": [{"filter": "datum.g == 'r12'"}],
      "mark": {"type": "text", "align": "center", "baseline": "middle", "fontSize": 12, "color": "#d01c1c"},
      "encoding": {
        "x": {"field": "i", "type": "quantitative", "scale": {"padding": 0}},
        "y": {"field": "p", "type": "quantitative", "scale": {"domain": [50.64, 103.62], "nice": false, "zero": false, "padding": 0}},
        "text": {"field": "t"}
      }
    },
    {
      "data": {"name": "waves"},
      "transform": [{"filter": "datum.g == 'r20'"}],
      "mark": {"type": "text", "align": "center", "baseline": "middle", "fontSize": 20, "color": "#c81010"},
      "encoding": {
        "x": {"field": "i", "type": "quantitative", "scale": {"padding": 0}},
        "y": {"field": "p", "type": "quantitative", "scale": {"domain": [50.64, 103.62], "nice": false, "zero": false, "padding": 0}},
        "text": {"field": "t"}
      }
    },
    {
      "data": {"name": "boxes"},
      "mark": {"type": "bar", "orient": "horizontal", "size": 18},
      "encoding": {
        "x": {"datum": 123.9, "type": "quantitative", "scale": {"padding": 0}},
        "x2": {"datum": 131.5},
        "y": {"field": "v", "type": "quantitative", "scale": {"domain": [50.64, 103.62], "nice": false, "zero": false, "padding": 0}},
        "fill": {"field": "k", "type": "nominal", "scale": {"domain": ["haut", "dernier", "bas"], "range": ["#008000", "#3366ff", "#c00000"]}, "legend": null}
      }
    },
    {
      "data": {"name": "boxes"},
      "mark": {"type": "text", "align": "left", "baseline": "middle", "fontSize": 12, "color": "#ffffff"},
      "encoding": {
        "x": {"datum": 124.4, "type": "quantitative", "scale": {"padding": 0}},
        "y": {"field": "v", "type": "quantitative", "scale": {"domain": [50.64, 103.62], "nice": false, "zero": false, "padding": 0}},
        "text": {"field": "v", "format": ".2f"}
      }
    }
  ]
}
